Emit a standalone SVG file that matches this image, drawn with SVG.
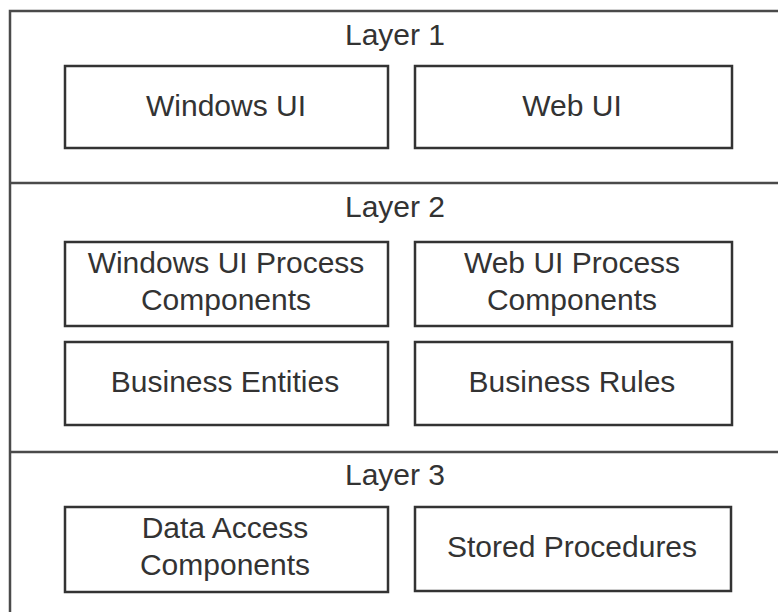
<svg xmlns="http://www.w3.org/2000/svg" width="778" height="612" viewBox="0 0 778 612">
<style>
.frame{fill:none;stroke:#4a4a4a;stroke-width:2.5}
.box{fill:#fff;stroke:#333;stroke-width:2.5}
text{font-family:"Liberation Sans",Arial,sans-serif;font-size:30px;fill:#333;text-anchor:middle}
</style>
<rect width="778" height="612" fill="#fff"/>
<g id="frame">
<path class="frame" d="M10,612 V11 H778"/>
<line class="frame" x1="10" y1="183" x2="778" y2="183"/>
<line class="frame" x1="10" y1="452" x2="778" y2="452"/>
</g>
<g id="layer1">
<text x="395" y="45">Layer 1</text>
</g>
<g id="windows-ui">
<rect class="box" x="65" y="66" width="323" height="82"/>
<text x="226" y="116">Windows UI</text>
</g>
<g id="web-ui">
<rect class="box" x="415" y="66" width="317" height="82"/>
<text x="572" y="116">Web UI</text>
</g>
<g id="layer2">
<text x="395" y="217">Layer 2</text>
</g>
<g id="windows-ui-process">
<rect class="box" x="65" y="242" width="323" height="84"/>
<text x="226" y="273">Windows UI Process</text>
<text x="226" y="310">Components</text>
</g>
<g id="web-ui-process">
<rect class="box" x="415" y="242" width="317" height="84"/>
<text x="572" y="273">Web UI Process</text>
<text x="572" y="310">Components</text>
</g>
<g id="business-entities">
<rect class="box" x="65" y="342" width="323" height="83"/>
<text x="225" y="392">Business Entities</text>
</g>
<g id="business-rules">
<rect class="box" x="415" y="342" width="317" height="83"/>
<text x="572" y="392">Business Rules</text>
</g>
<g id="layer3">
<text x="395" y="485">Layer 3</text>
</g>
<g id="data-access">
<rect class="box" x="65" y="507" width="323" height="85"/>
<text x="225" y="538">Data Access</text>
<text x="225" y="575">Components</text>
</g>
<g id="stored-procedures">
<rect class="box" x="415" y="507" width="316" height="84"/>
<text x="572" y="557">Stored Procedures</text>
</g>
<g id="connectors"></g>
</svg>
